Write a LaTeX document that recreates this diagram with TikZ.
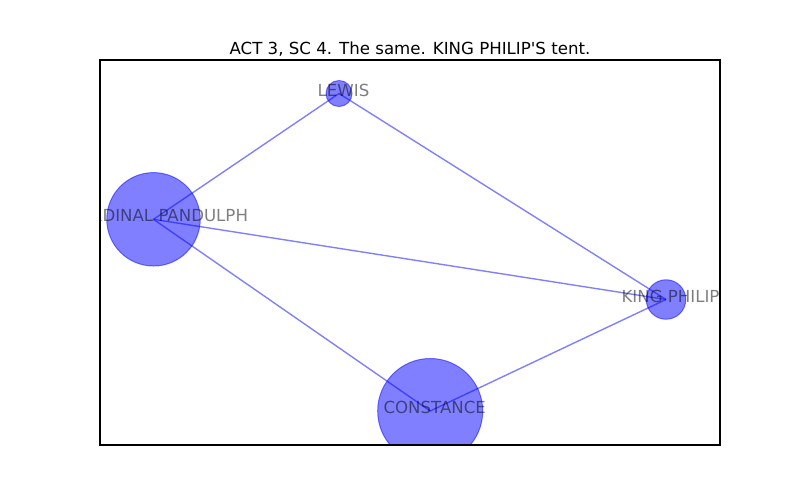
\documentclass[tikz,border=0pt]{standalone}
\usepackage{fontspec}
\newfontfamily\dv{DejaVu Sans}
\pgfdeclarelayer{bg}
\pgfsetlayers{bg,main}
\begin{document}
\begin{tikzpicture}[x=0.01in,y=-0.01in,
  vert/.style={circle,inner sep=0pt,fill=blue,fill opacity=0.5,draw=blue,draw opacity=0.5,line width=0.7pt},
  lbl/.style={anchor=base,inner sep=0pt,font=\dv\fontsize{12}{14}\selectfont,text=black,text opacity=0.5},
  edge/.style={draw=blue,draw opacity=0.5,line width=1pt}]
\useasboundingbox (0,0) rectangle (800,500);
\begin{scope}
\clip (100,60) rectangle (720,445);
\node[vert,minimum size=0.26in] (lewis) at (339,93.5) {};
\node[vert,minimum size=0.934in] (card) at (153.5,219.3) {};
\node[vert,minimum size=0.395in] (king) at (666,299.5) {};
\node[vert,minimum size=1.05in] (const) at (430.2,411) {};
\node[lbl] (lewisl) at (343.5,96) {LEWIS};
\node[lbl] (cardl) at (158,221.8) {CARDINAL PANDULPH};
\node[lbl] (kingl) at (670.5,302) {KING PHILIP};
\node[lbl] (constl) at (434.7,413.5) {CONSTANCE};
\end{scope}
\begin{pgfonlayer}{bg}
\draw[edge] (lewis.center) -- (card.center);
\draw[edge] (lewis.center) -- (king.center);
\draw[edge] (card.center) -- (king.center);
\draw[edge] (card.center) -- (const.center);
\draw[edge] (const.center) -- (king.center);
\end{pgfonlayer}
\draw[line width=0.8pt] (100,60) rectangle (720,445);
\node[anchor=base,inner sep=0pt,font=\dv\fontsize{12}{14}\selectfont] (title) at (410,54) {ACT 3, SC 4. The same. KING PHILIP'S tent.};
\end{tikzpicture}
\end{document}
